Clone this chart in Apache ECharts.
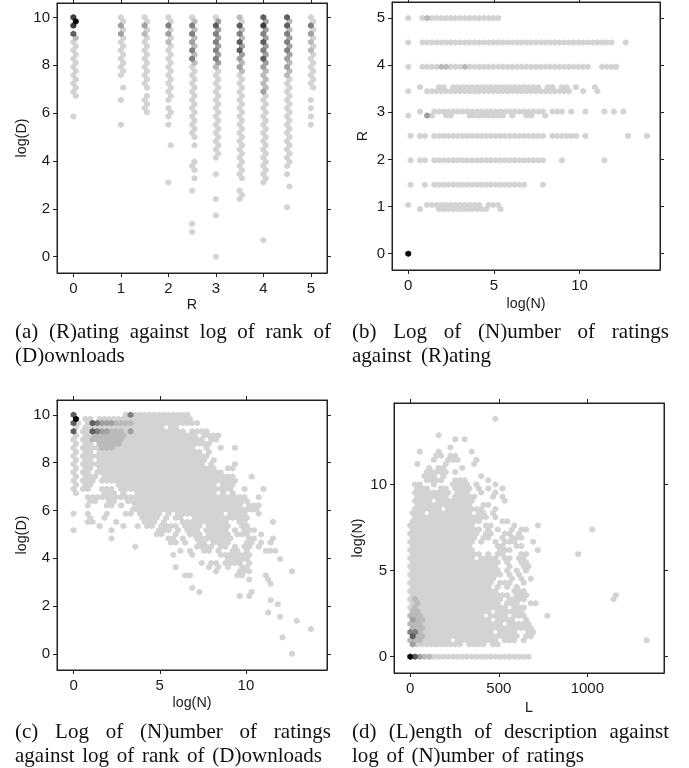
<!DOCTYPE html>
<html><head><meta charset="utf-8">
<style>html,body{margin:0;padding:0;background:#fff}#c{width:689px;height:768px}</style>
<script src="https://cdn.jsdelivr.net/npm/echarts@6/dist/echarts.min.js"></script>
</head><body><div id="c"></div>
<script>
// Hexbin cells. Token "a-b:s" = cells a..b at shade level s (default 1).
const ratingValues = [0,1,1.5,2,2.5,3,3.5,4,4.5,5];
const panelA = [
"0:6 1:7 2:6 4:5 5:2 6-19 24",
"0-1 2:3 3 4:3 5-14 17 20 26",
"0-1 2:3 3 4:2 5-17 19-23",
"0-1 2:4 3 4:3 5 6:2 7-20 22-24 26 31 40",
"0 1:2 2:4 3:2 4:4 5:2 6:3 7:2 8:4 9:2 10:4 11:2 12-29 31 35-37 39 42 50 52",
"0 1:3 2:5 3:3 4:4 5:3 6:4 7:3 8:4 9:3 10:4 11:3 12:2 13-34 38 44 48 58",
"0:2 1 2:5 3:2 4:4 5:2 6:5 7:3 8:5 9:3 10:3 11:2 12:3 13:2 14-39 42-44",
"0:5 1:3 2:6 3:3 4:4 5:3 6:5 7:3 8:4 9:3 10:5 11:3 12:3 13-17:2 18:3 19-40 54",
"0:5 1:2 2:5 3:2 4:4 5:3 6:4 7:3 8:4 9:3 10:3 11:2 12:3 13-14:2 15-36 38 41 46",
"0-1 2:4 3 4:3 5 6:2 7 8:2 9-17 20 22 24 26"
];
const panelB = [
[58,"0 3 4:2 5-19"],
[52,"0 3-43 46"],
[46,"0 3-6 7-8:2 9-11 12:2 13-38 41-44"],
[41,"2 6-7 9-27 29-30 32-33 35 39"],
[40,"0 4-34 37 40"],
[35,"2 5-28 30-32 34 37 41 43 45"],
[34,"0 4:3 5 8-9 13-20 22 25-26 29"],
[29,"0 2-3 5-28 30-35 37 46 50"],
[23,"0 2-3 5-28 32 41"],
[17,"0 3 5-24 28"],
[12,"0 4-15 17-19"],
[11,"2 6-16 19"],
[0,"0:7"]
];
const panelC = [
[0,"0:5 11 12:4 13-24"],
[1,"0:7 2-3 5-24"],
[2,"0:5 1 3 4:5 5:4 6-8:3 9-12:2 13-26"],
[3,"0 2-18 20-21"],
[4,"0:5 2-3 4:5 5:4 6-7:3 8-10:2 11 12:3 13-23 25-28"],
[5,"0 2-3 4-10:2 11-25 27-30"],
[6,"0 2-3 4-10:2 11-27 29-30"],
[7,"0 2-3 5-9:2 10-28"],
[8,"0 2-5 6-8:2 9-25 28 31 34"],
[9,"0 2-3 5-26 28"],
[10,"0 2-28"],
[11,"0 2-3 5-27 29"],
[12,"0 2-27 29 34"],
[13,"0 2-3 5-29 32-33"],
[14,"0 2-3 5-31"],
[15,"0 2-4 6-33 37"],
[16,"0 2-4 6-34"],
[17,"0 2-3 9-29 31-33"],
[18,"0 2-3 6-8 10-33 36 40"],
[19,"0 6-8 10 13-29 31 33"],
[20,"3-36 39"],
[21,"3-4 7-8 11-36"],
[22,"3 7-8 10 13-35 37-39"],
[23,"12-36 37-38"],
[24,"0 3 7 11-12 14-18 20 22-31 33-36 39"],
[25,"3 6 14-17 19 21-22 25-36"],
[26,"3-4 9 15-17 19 23-32 35-36 42"],
[27,"5 10 13 15-16 18-21 23-26 28-32 35-36"],
[28,"0 8 18-20 22 24-26 28-32 34 36-38"],
[29,"17-18 21 24-26 28-32 34-36 39"],
[30,"8 20-21 23 26-33 37-38 42"],
[31,"20-21 23 26-27 29-32 36-37 39 41"],
[32,"13 26-29 31-32 34 36-37 39"],
[33,"22 24 27-28 30 33-34 36 40-42"],
[34,"21 25 31-37"],
[35,"32-36 43"],
[36,"27 29-30 32-35 37"],
[37,"21 28 30 32 35-36"],
[38,"30 35-37 46"],
[39,"23-24 34-35 40"],
[40,"37 41"],
[41,"41"],
[42,"25"],
[43,"26 37"],
[44,"35 37"],
[45,"41"],
[46,"43"],
[48,"41"],
[49,"43"],
[50,"47"],
[52,"50"],
[54,"44"],
[58,"46"]
];
const panelD = [
[58,"18"],[54,"6"],[53,"9 11"],[51,"8"],[50,"2 6 13"],[49,"5-6 8-9"],[48,"5 8-10 14"],[47,"1 7 13"],
[46,"4 6-7 11"],[45,"3-7 9"],[44,"3-5 7 15"],[43,"3-6 9-11 16"],[42,"1-2 5 9-12 14 18"],
[41,"1-3 6-7 9-12 14 16 19"],[40,"1-8 10-12 15 18"],[39,"1-7 9-13 17 19"],[38,"1-4 6-13 20"],
[37,"1-12 15-16"],[36,"1-6 8-15 18"],[35,"0-2 4-12 14-15 17"],[34,"1-16 18"],[33,"0-14 19-20"],
[32,"0-13 16-17 22 27"],[31,"0-14 16 18 21 23-24 38"],[30,"0-14 16-17 20-21 23"],[29,"0-13 15-16 19 21-23"],
[28,"0-13 15 18 20-22 26"],[27,"0-12 18-19 22-23"],[26,"0-13 19-21 27"],[25,"0-14 16 18-19 23-24 35"],
[24,"0-13 15-18 20-21 23-24"],[23,"0-18 20 23-24"],[22,"0-18 21 24-25"],[21,"0-18 20 22 24"],
[20,"0-19 21 23"],[19,"0-17 21 23 25"],[18,"0-17 19-21 24"],[17,"0-16 18 20 22"],[16,"0-18 22-24"],
[15,"0-20 22-24 43"],[14,"0 1:2 2-19 21-24 43"],[13,"0 1:2 2-18 20-22 25-26"],[12,"0 1:2 2-20 22-24"],
[11,"0-1:2 2-16 18-23"],[10,"0-2:2 3-15 17-20 22-24 29"],[9,"0:3 1-2:2 3-16 18-21 24"],[8,"0-2:2 3-19 21-25"],
[7,"0-2:2 3-25"],[6,"0-1:4 2:2 3-17 19-22 25-26"],[5,"0:5 1-2:2 3-22 24-25"],[4,"0-2:2 3-8 10-18 20-22 24 50"],
[3,"0:3 1-10 12-15 17-18"],[0,"0:7 1:5 2:3 3-4:2 5-25"]
];
const ticksA = {x:[0,1,2,3,4,5], y:[0,2,4,6,8,10]};
const ticksB = {x:[0,5,10], y:[0,1,2,3,4,5]};
const ticksC = {x:[0,5,10], y:[0,2,4,6,8,10]};
const ticksD = {x:[0,500,1000], y:[0,5,10]};
const shades = {1:'#d3d3d3',2:'#bababa',3:'#a0a0a0',4:'#808080',5:'#5e5e5e',6:'#3c3c3c',7:'#0a0a0a'};
const captions = [
 {y:332.5,x0:15,x1:331,t:"(a) (R)ating against log of rank of"},
 {y:356,x0:15,x1:124,t:"(D)ownloads"},
 {y:332.5,x0:352,x1:669,t:"(b) Log of (N)umber of ratings"},
 {y:356,x0:352,x1:491,t:"against (R)ating"},
 {y:732.5,x0:15,x1:331,t:"(c) Log of (N)umber of ratings"},
 {y:756,x0:15,x1:322,t:"against log of rank of (D)ownloads"},
 {y:732.5,x0:352,x1:669,t:"(d) (L)ength of description against"},
 {y:756,x0:352,x1:584,t:"log of (N)umber of ratings"}
];
const grids = [
 {left:57,top:3,width:270,height:270,xr:[-0.345,5.34],yr:[-0.68,10.6],tk:ticksA,xn:'R',yn:'log(D)',ng:25,yg:28},
 {left:392,top:2,width:268,height:268,xr:[-0.95,14.7],yr:[-0.345,5.34],tk:ticksB,xn:'log(N)',yn:'R',ng:27,yg:22},
 {left:57,top:400,width:270,height:270,xr:[-0.96,14.7],yr:[-0.68,10.62],tk:ticksC,xn:'log(N)',yn:'log(D)',ng:26,yg:28},
 {left:394,top:403,width:270,height:270,xr:[-92,1433],yr:[-0.95,14.75],tk:ticksD,xn:'L',yn:'log(N)',ng:28,yg:29}
];
function parse(str){const o=[];str.split(' ').forEach(t=>{const [r,s]=t.split(':');const [a,b]=r.split('-').map(Number);
  for(let i=a;i<=(b===undefined?a:b);i++)o.push([i,+(s||1)]);});return o;}
const byLevel=[{},{},{},{}];
function put(p,l,x,y){(byLevel[p][l]=byLevel[p][l]||[]).push([x,y]);}
panelA.forEach((s,c)=>parse(s).forEach(([j,l])=>put(0,l,ratingValues[c]+(j%2?0.05:0),10-j*0.1724)));
panelB.forEach(([k,s])=>parse(s).forEach(([i,l])=>put(1,l,i*0.276+(k%2?0.138:0),k*0.0862)));
panelC.forEach(([j,s])=>parse(s).forEach(([i,l])=>put(2,l,i*0.2754+(j%2?0.1377:0),10-j*0.1724)));
panelD.forEach(([k,s])=>parse(s).forEach(([i,l])=>put(3,l,i*26.7+(k%2?13.35:0),k*0.2385)));
const HEX='path://M0 -1L.866 -.5L.866 .5L0 1L-.866 .5L-.866 -.5Z';
const ink='#222';const fam='"Liberation Sans",Arial,sans-serif';
const lbl={fontFamily:fam,fontSize:15,color:'#1a1a1a'};
const nm={fontFamily:fam,fontSize:14.3,color:'#1a1a1a'};
const opt={animation:false,backgroundColor:'#fff',grid:[],xAxis:[],yAxis:[],series:[],graphic:{elements:[]}};
grids.forEach((g,n)=>{
 opt.grid.push({left:g.left,top:g.top,width:g.width,height:g.height,show:true,borderColor:ink,borderWidth:1,backgroundColor:'#fff'});
 const base={type:'value',gridIndex:n,splitLine:{show:false},axisLine:{show:true,onZero:false,lineStyle:{color:ink,width:1}}};
 const tick=v=>({show:true,length:4,inside:false,customValues:v,lineStyle:{color:ink,width:1}});
 opt.xAxis.push({...base,position:'bottom',min:g.xr[0],max:g.xr[1],axisTick:tick(g.tk.x),axisLabel:{...lbl,show:true,margin:8,hideOverlap:false,customValues:g.tk.x,formatter:v=>String(v)},name:g.xn,nameLocation:'center',nameGap:g.ng,nameTextStyle:nm});
 opt.xAxis.push({...base,position:'top',min:g.xr[0],max:g.xr[1],axisTick:tick(g.tk.x),axisLabel:{show:false}});
 opt.yAxis.push({...base,position:'left',min:g.yr[0],max:g.yr[1],axisTick:tick(g.tk.y),axisLabel:{...lbl,show:true,margin:7,hideOverlap:false,customValues:g.tk.y,formatter:v=>String(v)},name:g.yn,nameLocation:'center',nameGap:g.yg,nameTextStyle:nm});
 opt.yAxis.push({...base,position:'right',min:g.yr[0],max:g.yr[1],axisTick:tick(g.tk.y),axisLabel:{show:false}});
 Object.keys(byLevel[n]).forEach(l=>opt.series.push({type:'scatter',xAxisIndex:n*2,yAxisIndex:n*2,data:byLevel[n][l],symbol:HEX,symbolKeepAspect:false,symbolSize:[5.9,6.5],itemStyle:{color:shades[l],opacity:1},silent:true,z:2+ +l,clip:false}));
});
const mc=document.createElement('canvas').getContext('2d');const capFont='21px "Liberation Serif"';mc.font=capFont;
captions.forEach(c=>{const w=c.t.split(' ');const ws=w.map(s=>mc.measureText(s).width);const sum=ws.reduce((a,b)=>a+b,0);
 const gap=w.length>1?(c.x1-c.x0-sum)/(w.length-1):0;let x=c.x0;
 w.forEach((s,i)=>{opt.graphic.elements.push({type:'text',x:x,y:c.y,style:{text:s,font:capFont,fill:'#111',textVerticalAlign:'middle',textAlign:'left'}});x+=ws[i]+gap;});});
echarts.init(document.getElementById('c'),null,{renderer:'canvas'}).setOption(opt);
</script></body></html>
